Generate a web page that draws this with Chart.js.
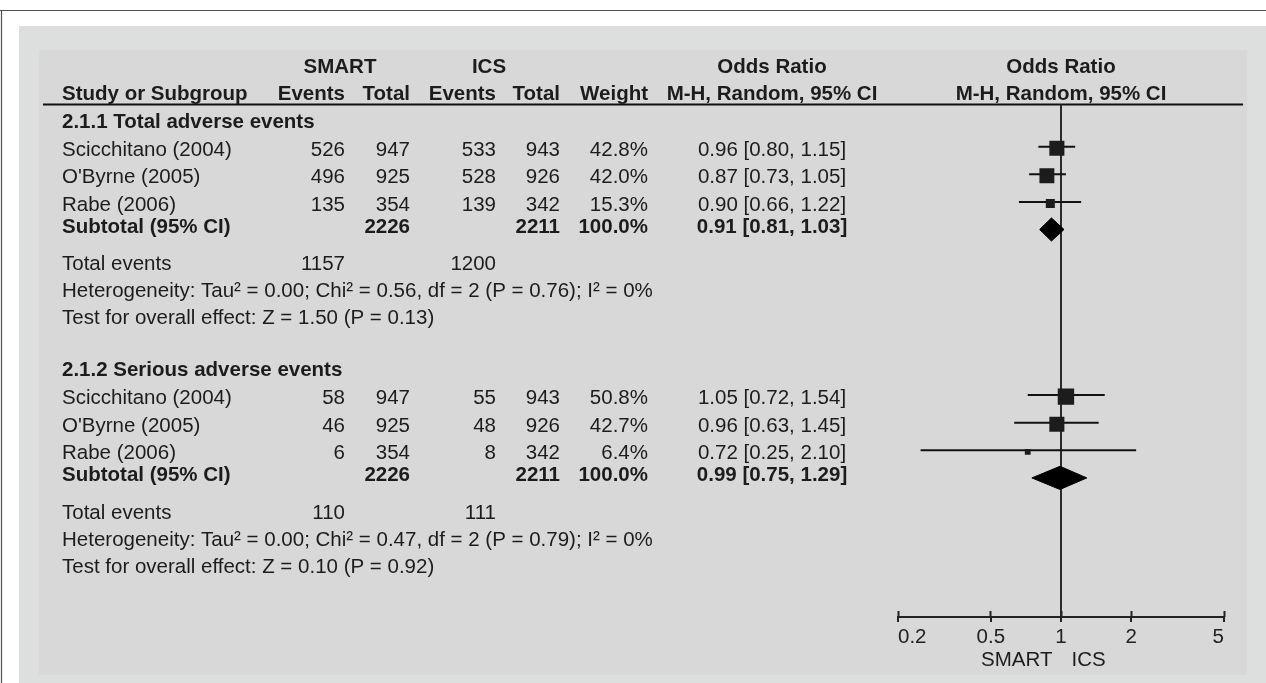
<!DOCTYPE html>
<html>
<head>
<meta charset="utf-8">
<script src="https://cdn.jsdelivr.net/npm/chart.js@4/dist/chart.umd.min.js"></script>
<style>
  html, body { margin: 0; padding: 0; background: #ffffff; }
  canvas { display: block; }
</style>
</head>
<body>
<canvas id="forest" width="1266" height="683"></canvas>
<script>
// ---------- data ----------
const groupTitles = ['2.1.1 Total adverse events', '2.1.2 Serious adverse events'];
const armNames = ['SMART', 'ICS'];
const studyNames = ['Scicchitano (2004)', "O'Byrne (2005)", 'Rabe (2006)'];

const smartEvents = [[526, 496, 135], [58, 46, 6]];
const smartTotals = [[947, 925, 354], [947, 925, 354]];
const icsEvents   = [[533, 528, 139], [55, 48, 8]];
const icsTotals   = [[943, 926, 342], [943, 926, 342]];
const weights     = [[42.8, 42.0, 15.3], [50.8, 42.7, 6.4]];

const orEst  = [[0.96, 0.87, 0.90], [1.05, 0.96, 0.72]];
const orLow  = [[0.80, 0.73, 0.66], [0.72, 0.63, 0.25]];
const orHigh = [[1.15, 1.05, 1.22], [1.54, 1.45, 2.10]];

const subtotalSmart  = [2226, 2226];
const subtotalIcs    = [2211, 2211];
const subtotalWeight = [100.0, 100.0];
const pooledEst  = [0.91, 0.99];
const pooledLow  = [0.81, 0.75];
const pooledHigh = [1.03, 1.29];

const totalEventsSmart = [1157, 110];
const totalEventsIcs   = [1200, 111];
const tau2  = ['0.00', '0.00'];
const chi2  = ['0.56', '0.47'];
const hetDf = [2, 2];
const hetP  = ['0.76', '0.79'];
const iSq   = [0, 0];
const zStat = ['1.50', '0.10'];
const zP    = ['0.13', '0.92'];

const tickValues = [0.2, 0.5, 1, 2, 5];
const tickLabels = ['0.2', '0.5', '1', '2', '5'];
const favourLabels = ['SMART', 'ICS'];

// ---------- layout & style ----------
const FONT = '"Liberation Sans", Arial, Helvetica, sans-serif';
const FS = 20.5;
const CAP_HALF = 7.3;        // half the cap height, for centring text on a row
const TEXT = '#1c1c1c';
const AREA = { top: 104.5, bottom: 617, left: 898, right: 1224 };
const FIRST_ROW_Y = 146.7;   // pixel of the first study row in the plot
const ROW_PX = 27.6;         // pixel height of one plot row
const GROUP_ROW_START = [0, 9];
const DIAMOND_HALF = 0.42;   // rows
const SQUARE_SHIFT = 0.055;  // rows
const TEXT_SHIFT = 1.5;      // px
const SUBTOTAL_TEXT_SHIFT = -0.2;        // rows
const TOTAL_GAP = 1.16, NOTE_GAP = 0.98; // rows
const TICK_DOWN = 5, TICK_UP = 6;
const AXIS_HEIGHT = 44;

const yMin = (AREA.top - FIRST_ROW_Y) / ROW_PX;
const yMax = (AREA.bottom - FIRST_ROW_Y) / ROW_PX;

const COL = {
  name: 62, smEv: 345, smTot: 410, icsEv: 496, icsTot: 560, weight: 648,
  or: 772, smHead: 340, icsHead: 489
};
const HEAD1_Y = 72.5, HEAD2_Y = 100;
const RULE = { y: 104.5, x0: 43, x1: 1243 };

const fmtOR = (e, l, h) => e.toFixed(2) + ' [' + l.toFixed(2) + ', ' + h.toFixed(2) + ']';

// ---------- datasets ----------
const datasets = [];

// study squares, area proportional to weight
const sqData = [], sqRadius = [];
orEst.forEach((grp, gi) => grp.forEach((est, i) => {
  sqData.push({ x: est, y: GROUP_ROW_START[gi] + i + SQUARE_SHIFT });
  sqRadius.push(2.3 * Math.sqrt(weights[gi][i]) / Math.SQRT2);
}));
datasets.push({
  type: 'scatter', data: sqData, pointStyle: 'rect', pointRadius: sqRadius,
  pointBackgroundColor: '#1c1c1c', pointBorderWidth: 0, order: 0
});

// pooled diamonds: upper half filled down to the lower half
pooledEst.forEach((est, gi) => {
  const r = GROUP_ROW_START[gi] + studyNames.length;
  datasets.push({
    type: 'line', fill: '+1', backgroundColor: '#000', borderColor: '#000', borderWidth: 1,
    pointRadius: 0, tension: 0, order: 1,
    data: [{ x: pooledLow[gi], y: r }, { x: est, y: r - DIAMOND_HALF }, { x: pooledHigh[gi], y: r }]
  });
  datasets.push({
    type: 'line', fill: false, borderColor: '#000', borderWidth: 1,
    pointRadius: 0, tension: 0, order: 1,
    data: [{ x: pooledLow[gi], y: r }, { x: est, y: r + DIAMOND_HALF }, { x: pooledHigh[gi], y: r }]
  });
});

// confidence interval whiskers
orLow.forEach((grp, gi) => grp.forEach((lo, i) => {
  const r = GROUP_ROW_START[gi] + i;
  datasets.push({
    type: 'line', fill: false, borderColor: '#111', borderWidth: 2,
    pointRadius: 0, order: 2,
    data: [{ x: lo, y: r }, { x: orHigh[gi][i], y: r }]
  });
}));

const setTicks = s => { s.ticks = tickValues.map(v => ({ value: v })); };

// ---------- panel background ----------
const panelPlugin = {
  id: 'panel',
  beforeDraw(chart) {
    const ctx = chart.ctx, W = chart.width, H = chart.height;
    ctx.save();
    ctx.fillStyle = '#ffffff';
    ctx.fillRect(0, 0, W, H);
    ctx.fillStyle = '#dddede';
    ctx.fillRect(19, 26, W - 19, H - 26);
    ctx.fillStyle = '#d8d8d8';
    ctx.fillRect(39, 50, 1247 - 39, 675 - 50);
    ctx.strokeStyle = '#505050';
    ctx.lineWidth = 1.2;
    ctx.beginPath();
    ctx.moveTo(0, 10.5); ctx.lineTo(W, 10.5);
    ctx.moveTo(1.5, 10.5); ctx.lineTo(1.5, H);
    ctx.stroke();
    // header rule
    ctx.strokeStyle = '#111';
    ctx.lineWidth = 2;
    ctx.beginPath();
    ctx.moveTo(RULE.x0, RULE.y); ctx.lineTo(RULE.x1, RULE.y);
    ctx.stroke();
    ctx.restore();
  }
};

// ---------- table text ----------
const tablePlugin = {
  id: 'table',
  afterDraw(chart) {
    const ctx = chart.ctx;
    const xs = chart.scales.x, ys = chart.scales.y;
    const plotMid = xs.getPixelForValue(1);
    const rowY = r => ys.getPixelForValue(r) + TEXT_SHIFT + CAP_HALF;
    const put = (s, x, y, align, bold) => {
      ctx.font = (bold ? 'bold ' : '') + FS + 'px ' + FONT;
      ctx.textAlign = align;
      ctx.fillText(String(s), x, y);
    };
    ctx.save();
    ctx.fillStyle = TEXT;
    ctx.textBaseline = 'alphabetic';

    // column headers
    put(armNames[0], COL.smHead, HEAD1_Y, 'center', true);
    put(armNames[1], COL.icsHead, HEAD1_Y, 'center', true);
    put('Odds Ratio', COL.or, HEAD1_Y, 'center', true);
    put('Odds Ratio', plotMid, HEAD1_Y, 'center', true);
    put('Study or Subgroup', COL.name, HEAD2_Y, 'left', true);
    put('Events', COL.smEv, HEAD2_Y, 'right', true);
    put('Total', COL.smTot, HEAD2_Y, 'right', true);
    put('Events', COL.icsEv, HEAD2_Y, 'right', true);
    put('Total', COL.icsTot, HEAD2_Y, 'right', true);
    put('Weight', COL.weight, HEAD2_Y, 'right', true);
    put('M-H, Random, 95% CI', COL.or, HEAD2_Y, 'center', true);
    put('M-H, Random, 95% CI', plotMid, HEAD2_Y, 'center', true);

    groupTitles.forEach((title, gi) => {
      const r0 = GROUP_ROW_START[gi];
      put(title, COL.name, rowY(r0 - 1), 'left', true);
      studyNames.forEach((name, i) => {
        const y = rowY(r0 + i);
        put(name, COL.name, y, 'left', false);
        put(smartEvents[gi][i], COL.smEv, y, 'right', false);
        put(smartTotals[gi][i], COL.smTot, y, 'right', false);
        put(icsEvents[gi][i], COL.icsEv, y, 'right', false);
        put(icsTotals[gi][i], COL.icsTot, y, 'right', false);
        put(weights[gi][i].toFixed(1) + '%', COL.weight, y, 'right', false);
        put(fmtOR(orEst[gi][i], orLow[gi][i], orHigh[gi][i]), COL.or, y, 'center', false);
      });
      const rs = r0 + studyNames.length;
      let y = rowY(rs + SUBTOTAL_TEXT_SHIFT);
      put('Subtotal (95% CI)', COL.name, y, 'left', true);
      put(subtotalSmart[gi], COL.smTot, y, 'right', true);
      put(subtotalIcs[gi], COL.icsTot, y, 'right', true);
      put(subtotalWeight[gi].toFixed(1) + '%', COL.weight, y, 'right', true);
      put(fmtOR(pooledEst[gi], pooledLow[gi], pooledHigh[gi]), COL.or, y, 'center', true);

      const rt = rs + TOTAL_GAP;
      y = rowY(rt);
      put('Total events', COL.name, y, 'left', false);
      put(totalEventsSmart[gi], COL.smEv, y, 'right', false);
      put(totalEventsIcs[gi], COL.icsEv, y, 'right', false);

      put('Heterogeneity: Tau\u00b2 = ' + tau2[gi] + '; Chi\u00b2 = ' + chi2[gi] + ', df = ' + hetDf[gi] +
          ' (P = ' + hetP[gi] + '); I\u00b2 = ' + iSq[gi] + '%', COL.name, rowY(rt + NOTE_GAP), 'left', false);
      put('Test for overall effect: Z = ' + zStat[gi] + ' (P = ' + zP[gi] + ')',
          COL.name, rowY(rt + 2 * NOTE_GAP), 'left', false);
    });

    // favours labels under the axis
    put(favourLabels[0], plotMid - 8.5, 666.3, 'right', false);
    put(favourLabels[1], plotMid + 10.5, 666.3, 'left', false);
    ctx.restore();
  }
};

new Chart(document.getElementById('forest'), {
  type: 'scatter',
  data: { datasets },
  options: {
    responsive: false,
    animation: false,
    events: [],
    layout: {
      padding: {
        left: AREA.left, right: 1266 - AREA.right, top: AREA.top,
        bottom: 683 - AREA.bottom - AXIS_HEIGHT
      }
    },
    plugins: { legend: { display: false }, tooltip: { enabled: false }, title: { display: false } },
    scales: {
      x: {
        type: 'logarithmic', position: 'bottom', min: 0.2, max: 5,
        afterBuildTicks: setTicks,
        afterFit: s => { s.height = AXIS_HEIGHT; },
        grid: {
          display: true, drawOnChartArea: true,
          color: c => (c.tick && c.tick.value === 1) ? '#2b2b2b' : 'rgba(0,0,0,0)',
          lineWidth: 2, drawTicks: true, tickLength: TICK_DOWN, tickColor: '#222', tickWidth: 2
        },
        border: { display: true, color: '#222', width: 2 },
        ticks: {
          align: 'inner', autoSkip: false, maxRotation: 0, minRotation: 0, padding: 3,
          color: '#222', font: { family: FONT, size: FS },
          callback: (v, i) => tickLabels[i]
        }
      },
      xUp: {
        type: 'logarithmic', axis: 'x', position: { y: yMax - TICK_UP / ROW_PX },
        min: 0.2, max: 5,
        afterBuildTicks: setTicks,
        grid: {
          display: true, drawOnChartArea: false, drawTicks: true,
          tickLength: TICK_UP, tickColor: '#222', tickWidth: 2
        },
        border: { display: false },
        ticks: { display: false }
      },
      y: { type: 'linear', display: false, reverse: true, min: yMin, max: yMax }
    }
  },
  plugins: [panelPlugin, tablePlugin]
});
</script>
</body>
</html>
